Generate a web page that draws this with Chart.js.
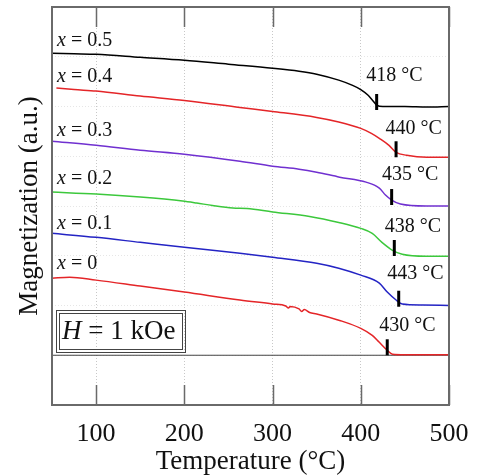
<!DOCTYPE html>
<html>
<head>
<meta charset="utf-8">
<script src="https://cdn.jsdelivr.net/npm/chart.js@4.4.0/dist/chart.umd.min.js"></script>
<style>
  html, body { margin: 0; padding: 0; background: #fff; }
</style>
</head>
<body>
<canvas id="chart" width="480" height="475"></canvas>
<script>
// temperature ticks (°C)
const tempTicks = [100, 200, 300, 400, 500];

// magnetization curves, arbitrary units, stacked with offsets as in the figure
const t05 = [50, 75, 100, 150, 200, 250, 300, 330, 350, 375, 390, 400, 408, 413, 418, 425, 450, 475, 500];
const m05 = [6.07, 6.06, 6.05, 5.99, 5.93, 5.85, 5.77, 5.71, 5.65, 5.53, 5.43, 5.34, 5.23, 5.13, 5.03, 5.00, 5.00, 4.99, 5.00];

const t04 = [55, 75, 100, 150, 200, 263, 300, 350, 375, 400, 412, 421, 432, 440, 452, 475, 500];
const m04 = [5.37, 5.34, 5.31, 5.21, 5.12, 4.98, 4.90, 4.78, 4.69, 4.56, 4.46, 4.36, 4.22, 4.08, 4.02, 3.98, 3.98];

const t03 = [50, 100, 150, 200, 263, 300, 330, 350, 376, 406, 421, 428, 435, 445, 474, 500];
const m03 = [4.30, 4.22, 4.12, 4.04, 3.90, 3.80, 3.74, 3.68, 3.58, 3.48, 3.36, 3.22, 3.12, 3.04, 3.00, 3.00];

const t02 = [50, 100, 150, 198, 214, 232, 255, 271, 300, 342, 375, 400, 413, 424, 436, 447, 474, 500];
const m02 = [3.28, 3.24, 3.18, 3.10, 3.06, 3.01, 2.96, 2.95, 2.88, 2.79, 2.67, 2.55, 2.45, 2.27, 2.11, 2.03, 1.99, 1.99];

const t01 = [50, 100, 150, 200, 263, 300, 350, 375, 400, 421, 430, 440, 447, 470, 500];
const m01 = [2.45, 2.37, 2.27, 2.17, 2.05, 1.97, 1.85, 1.75, 1.61, 1.45, 1.27, 1.11, 1.03, 1.01, 1.00];

const t00 = [50, 70, 100, 150, 200, 263, 300, 315, 318, 320, 330, 333, 336, 342, 350, 376, 400, 413, 421, 430, 436, 450, 475, 500];
const m00 = [1.55, 1.57, 1.51, 1.39, 1.27, 1.11, 1.03, 0.99, 0.95, 0.98, 0.93, 0.88, 0.92, 0.86, 0.83, 0.70, 0.54, 0.40, 0.26, 0.10, 0.02, 0.01, 0.01, 0.01];

const seriesNames = ['0.5', '0.4', '0.3', '0.2', '0.1', '0'];
const seriesColors = ['#000000', '#e42528', '#7030d0', '#3cc83c', '#2424c4', '#e42528'];
const seriesT = [t05, t04, t03, t02, t01, t00];
const seriesM = [m05, m04, m03, m02, m01, m00];

// Curie temperatures and where their labels sit
const tcValues = [418, 440, 435, 438, 443, 430];
const tcText = ['418 °C', '440 °C', '435 °C', '438 °C', '443 °C', '430 °C'];
const tcLabelT = [438, 460, 456, 459, 462, 453];
const tcLabelM = [5.61, 4.56, 3.62, 2.59, 1.63, 0.60];

// "x = ..." labels
const nameLabelT = 55.7;
const nameLabelM = [6.33, 5.59, 4.52, 3.54, 2.65, 1.83];

// field box corners (data units)
const boxT = [54.5, 200.6];
const boxM = [0.06, 0.905];

const serif = "'Liberation Serif', 'Times New Roman', serif";

function interp(t, xs, ys) {
    for (let i = 1; i < xs.length; i++) {
        if (t <= xs[i]) {
            const f = (t - xs[i - 1]) / (xs[i] - xs[i - 1]);
            return ys[i - 1] + f * (ys[i] - ys[i - 1]);
        }
    }
    return ys[ys.length - 1];
}

const datasets = seriesNames.map((n, i) => ({
    label: 'x = ' + n,
    data: seriesT[i].map((t, j) => ({ x: t, y: seriesM[i][j] })),
    borderColor: seriesColors[i],
    borderWidth: 1.5,
    pointRadius: 0,
    cubicInterpolationMode: 'monotone',
    order: 1
}));
// zero line
datasets.push({
    label: 'zero',
    data: [{ x: 50, y: 0 }, { x: 500, y: 0 }],
    borderColor: '#444',
    borderWidth: 1.2,
    pointRadius: 0,
    order: 10
});

const decor = {
    id: 'decor',
    afterDraw(chart) {
        const { ctx, chartArea: a, scales: { x, y } } = chart;
        ctx.save();

        // frame
        ctx.strokeStyle = '#6a6a6a';
        ctx.lineWidth = 2;
        ctx.strokeRect(a.left, a.top, a.right - a.left, a.bottom - a.top);

        // inward ticks top and bottom
        ctx.lineWidth = 1.5;
        tempTicks.forEach(v => {
            const px = Math.round(x.getPixelForValue(v)) + 0.5;
            ctx.beginPath();
            ctx.moveTo(px, a.bottom); ctx.lineTo(px, a.bottom - 20);
            ctx.moveTo(px, a.top); ctx.lineTo(px, a.top + 20);
            ctx.stroke();
        });

        // Curie markers
        ctx.strokeStyle = '#000';
        ctx.lineWidth = 3;
        tcValues.forEach((tc, i) => {
            const px = x.getPixelForValue(tc);
            const py = y.getPixelForValue(interp(tc, seriesT[i], seriesM[i]));
            ctx.beginPath();
            ctx.moveTo(px, py - 11); ctx.lineTo(px, py + 5);
            ctx.stroke();
        });

        ctx.fillStyle = '#111';
        ctx.textBaseline = 'middle';

        // Curie labels
        ctx.font = '20px ' + serif;
        ctx.textAlign = 'center';
        tcText.forEach((s, i) => {
            ctx.fillText(s, x.getPixelForValue(tcLabelT[i]), y.getPixelForValue(tcLabelM[i]));
        });

        // series names
        ctx.textAlign = 'left';
        seriesNames.forEach((n, i) => {
            let px = x.getPixelForValue(nameLabelT);
            const py = y.getPixelForValue(nameLabelM[i]);
            ctx.font = 'italic 20px ' + serif;
            ctx.fillText('x', px, py);
            px += ctx.measureText('x').width;
            ctx.font = '20px ' + serif;
            ctx.fillText(' = ' + n, px, py);
        });

        // field box
        const bx0 = x.getPixelForValue(boxT[0]), bx1 = x.getPixelForValue(boxT[1]);
        const by0 = y.getPixelForValue(boxM[1]), by1 = y.getPixelForValue(boxM[0]);
        ctx.strokeStyle = '#444';
        ctx.lineWidth = 1;
        ctx.strokeRect(Math.round(bx0) + 0.5, Math.round(by0) + 0.5, Math.round(bx1 - bx0), Math.round(by1 - by0));
        ctx.strokeRect(Math.round(bx0) + 3.5, Math.round(by0) + 3.5, Math.round(bx1 - bx0) - 6, Math.round(by1 - by0) - 6);
        let hx = bx0 + 6;
        const hy = (by0 + by1) / 2 + 1;
        ctx.font = 'italic 27px ' + serif;
        ctx.fillText('H', hx, hy);
        hx += ctx.measureText('H').width;
        ctx.font = '27px ' + serif;
        ctx.fillText(' = 1 kOe', hx, hy);

        ctx.restore();
    }
};

new Chart(document.getElementById('chart'), {
    type: 'line',
    data: { datasets },
    options: {
        responsive: false,
        animation: false,
        layout: { padding: { top: 7, right: 31, left: 0, bottom: 0 } },
        plugins: { legend: { display: false }, tooltip: { enabled: false } },
        scales: {
            x: {
                type: 'linear',
                min: 50, max: 500,
                afterBuildTicks: s => { s.ticks = tempTicks.map(v => ({ value: v })); },
                afterFit: s => { s.height = 70; s.paddingLeft = 0; s.paddingRight = 0; },
                grid: {
                    drawTicks: false,
                    color: c => (c.tick && c.tick.value < 500) ? '#c8c8c8' : 'rgba(0,0,0,0)',
                    lineWidth: 1
                },
                border: { display: false, dash: [1, 2] },
                ticks: { color: '#111', font: { family: serif, size: 26 }, padding: 14, maxRotation: 0 },
                title: {
                    display: true, text: 'Temperature (°C)', color: '#111',
                    font: { family: serif, size: 27, lineHeight: 1 }, padding: { top: 0, bottom: 0 }
                }
            },
            y: {
                min: -1, max: 7,
                afterFit: s => { s.width = 52; },
                grid: { drawTicks: false, color: '#e6e6e6', lineWidth: 1 },
                border: { display: false, dash: [1, 2] },
                ticks: { display: false, stepSize: 1 },
                title: {
                    display: true, text: 'Magnetization (a.u.)', color: '#111',
                    font: { family: serif, size: 27, lineHeight: 1 }, padding: { top: 16, bottom: 0 }
                }
            }
        }
    },
    plugins: [decor]
});
</script>
</body>
</html>
